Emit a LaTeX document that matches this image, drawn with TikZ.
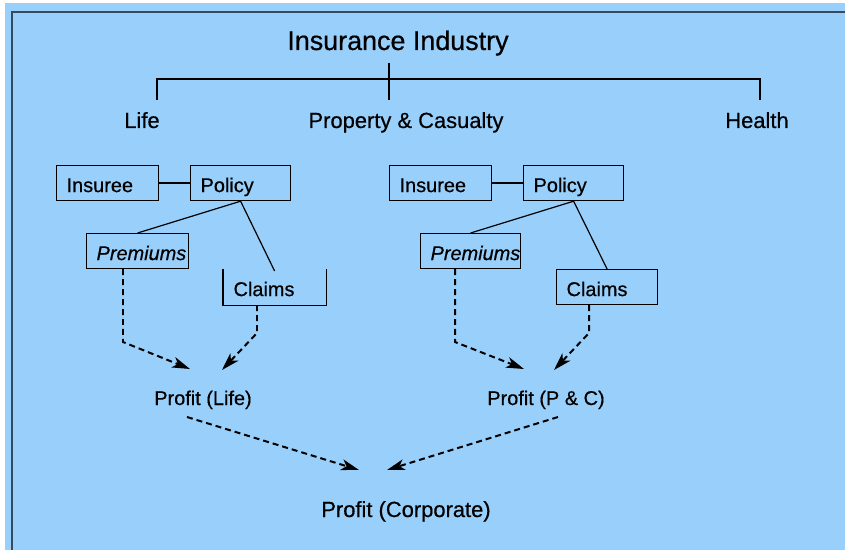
\documentclass[tikz,border=0pt]{standalone}
\usepackage{fontspec}
\setmainfont{Liberation Sans}[FakeBold=0.5]
\usetikzlibrary{arrows.meta}
\definecolor{skyfill}{RGB}{153,207,251}
\definecolor{frameline}{RGB}{55,75,95}
\newcommand{\fsz}[1]{\fontsize{#1}{#1}\selectfont}
\tikzset{
  box/.style={draw, line width=1.2pt, anchor=north west, minimum height=35bp,
              inner xsep=10bp, inner ysep=0pt, align=left, font=\fsz{20},
              text height=19pt, text depth=1pt},
  openbox/.style={box, draw=none},
  label/.style={inner sep=0pt, anchor=base, font=\fsz{20}},
  tree/.style={line width=1.2pt},
  link/.style={line width=1.2pt},
  flow/.style={line width=2pt, dash pattern=on 6pt off 4pt,
               -{Stealth[length=18pt, width=11pt, inset=5pt]}},
}
\begin{document}
\begin{tikzpicture}[x=1bp, y=-1bp]
  \useasboundingbox (0,0) rectangle (845,550);
  % page and panel (fills run past the page edge so no seam is left)
  \fill[white] (-5,-5) rectangle (855,560);
  \fill[skyfill] (5,3) rectangle (855,560);
  \draw[frameline, line width=2pt] (12,560) -- (12,12) -- (855,12);

  % industry tree
  \node[label, font=\fsz{27}] (ind) at (398,50) {Insurance Industry};
  \node[label, font=\fsz{22}] (life) at (142,128) {Life};
  \node[label, font=\fsz{22}] (pc) at (406,128) {Property \& Casualty};
  \node[label, font=\fsz{22}] (health) at (757,128) {Health};
  \coordinate (trunkTop) at (389,63);
  \coordinate (trunkBot) at (389,100);
  \coordinate (lifeTop) at (157,100);
  \coordinate (healthTop) at (760,100);
  \draw[tree] (trunkTop) -- (trunkBot);
  \draw[tree] (lifeTop) |- (trunkBot |- 0,79) -| (healthTop);

  % life branch
  \node[box, text width=82bp] (ins1) at (56,165) {Insuree};
  \node[box, text width=80bp] (pol1) at (190,165) {Policy};
  \node[box, text width=82bp, font=\fsz{20}\itshape] (prem1) at (86,233) {Premiums};
  \node[openbox, text width=82bp] (clm1) at (223,269) {Claims};
  \draw[line width=1.2pt] (clm1.north west) -- (clm1.south west)
        -- (clm1.south east) -- (clm1.north east);
  \draw[link] (ins1.east) -- (pol1.west);
  \draw[link] (pol1.south) -- (prem1.north);
  \draw[link] (pol1.south) -- ([yshift=-2pt]clm1.north);

  % property & casualty branch
  \node[box, text width=82bp] (ins2) at (389,165) {Insuree};
  \node[box, text width=80bp] (pol2) at (523,165) {Policy};
  \node[box, text width=80bp, font=\fsz{20}\itshape] (prem2) at (420,233) {Premiums};
  \node[box, text width=81bp] (clm2) at (556,269) {Claims};
  \draw[link] (ins2.east) -- (pol2.west);
  \draw[link] (pol2.south) -- (prem2.north);
  \draw[link] (pol2.south) -- (clm2.north);

  % profits
  \node[label] (plife) at (203,405) {Profit (Life)};
  \node[label] (ppc) at (546,405) {Profit (P \& C)};
  \node[label, font=\fsz{22}] (pcorp) at (406,517) {Profit (Corporate)};

  % money flows
  \coordinate (e1) at (123,342);
  \coordinate (e2) at (257,333);
  \coordinate (e3) at (455,342);
  \coordinate (e4) at (589,333);
  \coordinate (t1) at (190,369);
  \coordinate (t2) at (222,370);
  \coordinate (t3) at (524,369);
  \coordinate (t4) at (554,370);
  \draw[flow] (prem1.south -| e1) -- (e1) -- (t1);
  \draw[flow] (clm1.south -| e2) -- (e2) -- (t2);
  \draw[flow] (prem2.south -| e3) -- (e3) -- (t3);
  \draw[flow] (clm2.south -| e4) -- (e4) -- (t4);

  \coordinate (s5) at (187,417);
  \coordinate (s6) at (558,417);
  \coordinate (t5) at (359,470);
  \coordinate (t6) at (387,470);
  \draw[flow] (s5) -- (t5);
  \draw[flow] (s6) -- (t6);
\end{tikzpicture}
\end{document}
